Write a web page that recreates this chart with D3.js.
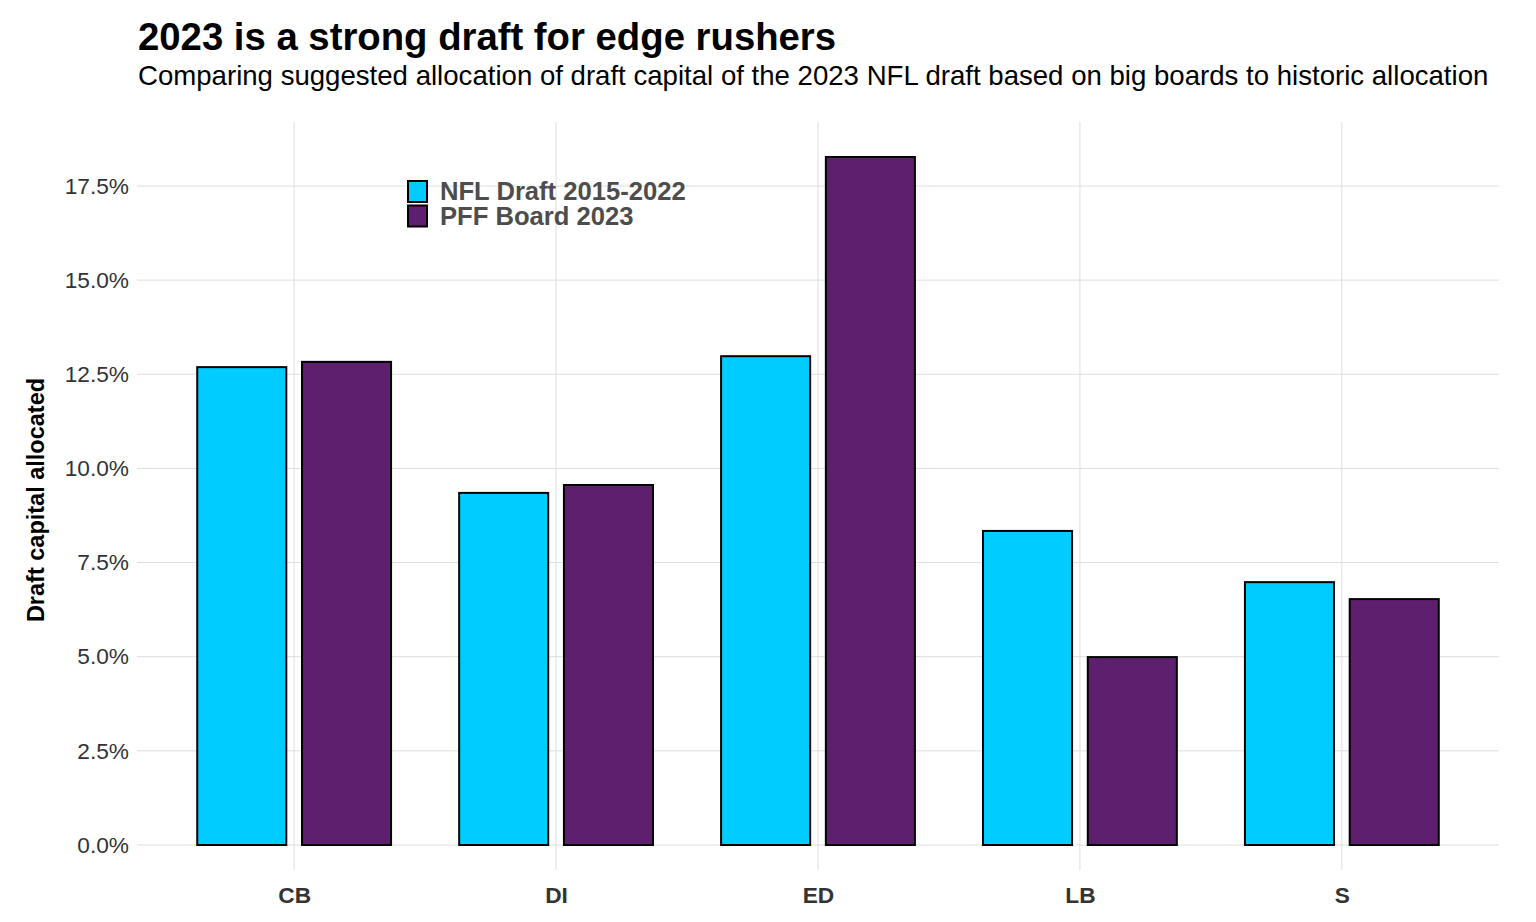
<!DOCTYPE html>
<html><head><meta charset="utf-8">
<script src="https://cdn.jsdelivr.net/npm/d3@7"></script>
<style>body{margin:0;background:#fff;font-family:"Liberation Sans",Arial,sans-serif;}</style>
</head><body>
<svg id="chart" width="1536" height="922"></svg>
<script>
const categories = ["CB", "DI", "ED", "LB", "S"];
const seriesNames = ["NFL Draft 2015-2022", "PFF Board 2023"];
const nflDraft = [12.69, 9.35, 12.98, 8.34, 6.98];
const pffBoard = [12.83, 9.56, 18.27, 4.99, 6.53];
const yTicks = [0, 2.5, 5, 7.5, 10, 12.5, 15, 17.5];
const colors = ["#00CCFF", "#5F1F6F"];

(function () {
const svg = d3.select("#chart");
const pLeft = 137, pRight = 1499, pTop = 122, pBottom = 870;
const step = (pRight - pLeft) / 5.2; // 5 bands + 0.6 expansion each side
const x = d3.scalePoint().domain(categories).range([pLeft + 0.6 * step, pRight - 0.6 * step]);
const y = d3.scaleLinear().domain([0, 17.5]).range([845, 186]);

// grid
const g = svg.append("g");
g.selectAll(".hg").data(yTicks).join("line")
  .attr("x1", pLeft).attr("x2", pRight)
  .attr("y1", d => y(d)).attr("y2", d => y(d))
  .attr("stroke", "#DEDEDE").attr("stroke-width", 1);
g.selectAll(".vg").data(categories).join("line")
  .attr("x1", d => x(d)).attr("x2", d => x(d))
  .attr("y1", pTop).attr("y2", pBottom)
  .attr("stroke", "#DEDEDE").attr("stroke-width", 1);

// bars
const offset = 0.2 * step, bw = 0.34 * step;
const data = [];
categories.forEach((c, i) => {
  data.push({c, s: 0, v: nflDraft[i]});
  data.push({c, s: 1, v: pffBoard[i]});
});
svg.append("g").selectAll("rect").data(data).join("rect")
  .attr("x", d => x(d.c) + (d.s === 0 ? -offset : offset) - bw / 2)
  .attr("width", bw)
  .attr("y", d => y(d.v))
  .attr("height", d => y(0) - y(d.v))
  .attr("fill", d => colors[d.s])
  .attr("stroke", "#000").attr("stroke-width", 2);

// y axis labels
const yAxis = d3.axisLeft(y).tickValues(yTicks).tickFormat(d => d.toFixed(1) + "%").tickSize(0).tickPadding(8);
const ya = svg.append("g").attr("transform", `translate(${pLeft},0)`).call(yAxis);
ya.select(".domain").remove();
ya.selectAll("text").attr("font-size", 22.7).attr("fill", "#333").attr("font-family", "Liberation Sans, Arial, sans-serif");

// x axis labels
const xAxis = d3.axisBottom(x).tickSize(0).tickPadding(0);
const xa = svg.append("g").attr("transform", `translate(0,887)`).call(xAxis);
xa.select(".domain").remove();
xa.selectAll("text").attr("font-size", 22.7).attr("font-weight", "bold").attr("fill", "#333").attr("font-family", "Liberation Sans, Arial, sans-serif");

// y title
svg.append("text").attr("transform", "translate(44,500) rotate(-90)")
  .attr("text-anchor", "middle").attr("font-size", 23.5).attr("font-weight", "bold")
  .attr("fill", "#000").text("Draft capital allocated");

// titles
svg.append("text").attr("x", 138).attr("y", 50).attr("font-size", 38.3).attr("font-weight", "bold")
  .attr("fill", "#000").text("2023 is a strong draft for edge rushers");
svg.append("text").attr("x", 138).attr("y", 85).attr("font-size", 27.6)
  .attr("fill", "#000").text("Comparing suggested allocation of draft capital of the 2023 NFL draft based on big boards to historic allocation");

// legend
const lg = svg.append("g").selectAll("g").data(seriesNames).join("g")
  .attr("transform", (d, i) => `translate(408,${181 + i * 24.5})`);
lg.append("rect").attr("width", 19).attr("height", 21)
  .attr("fill", (d, i) => colors[i]).attr("stroke", "#000").attr("stroke-width", 2);
lg.append("text").attr("x", 32).attr("y", 19).attr("font-size", 25.6).attr("font-weight", "bold")
  .attr("fill", "#4D4D4D").text(d => d);
})();
</script>
</body></html>
